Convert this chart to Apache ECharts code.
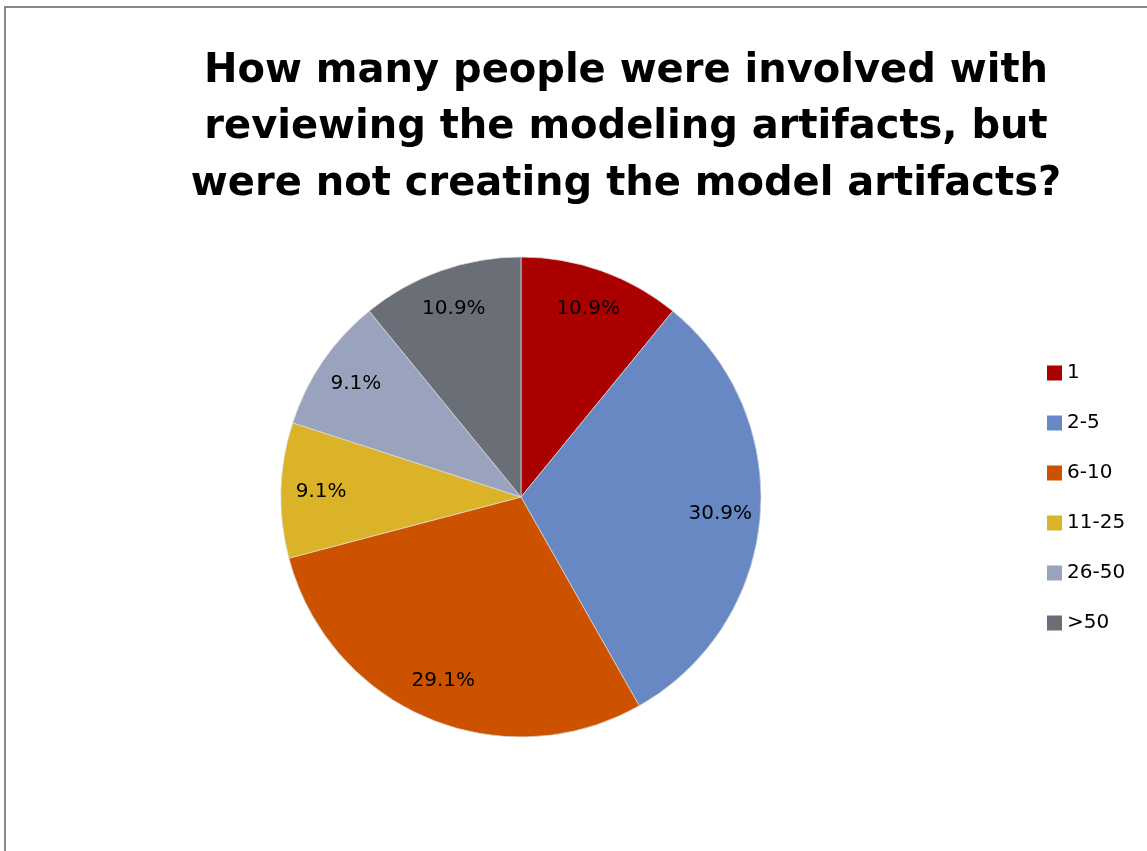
<!DOCTYPE html>
<html><head><meta charset="utf-8">
<script src="https://cdn.jsdelivr.net/npm/echarts@6/dist/echarts.min.js"></script>
<style>html,body{margin:0;padding:0;background:#fff;}#c{width:1147px;height:851px;}</style>
</head><body><div id="c"></div>
<script>
const categories = ['1', '2-5', '6-10', '11-25', '26-50', '>50'];
const percents = [10.9, 30.9, 29.1, 9.1, 9.1, 10.9];
const colors = ['#AA0000', '#6788C2', '#CC5200', '#DBB328', '#99A3BE', '#6A6E76'];
const titleText = 'How many people were involved with\nreviewing the modeling artifacts, but\nwere not creating the model artifacts?';

const chart = echarts.init(document.getElementById('c'), null, {renderer: 'canvas'});
const data = categories.map((c, i) => ({name: c, value: percents[i], itemStyle: {color: colors[i]}}));
chart.setOption({
  backgroundColor: '#fff',
  animation: false,
  title: {
    text: titleText,
    left: 621, top: 38, textAlign: 'center',
    textStyle: {fontFamily: 'DejaVu Sans', fontWeight: 'bold', fontSize: 40, lineHeight: 56.5, color: '#000'}
  },
  legend: {
    orient: 'vertical', left: 1047, top: 362, padding: 0,
    itemWidth: 15, itemHeight: 15, itemGap: 28,
    icon: 'rect',
    itemStyle: {borderWidth: 0},
    textStyle: {fontFamily: 'DejaVu Sans', fontSize: 20, lineHeight: 22, color: '#000', padding: [0, 0, 0, 0]},
    data: categories
  },
  graphic: [{
    type: 'rect', shape: {x: 5, y: 7, width: 1300, height: 1000},
    style: {fill: 'none', stroke: '#888', lineWidth: 2}, silent: true
  }],
  series: [{
    type: 'pie', center: [521, 497], radius: [0, 240], startAngle: 90, clockwise: true,
    data: data,
    itemStyle: {borderColor: '#ddd', borderWidth: 0.7},
    label: {show: false}, labelLine: {show: false}
  }, {
    type: 'pie', center: [521, 497], radius: [154, 240], startAngle: 90, clockwise: true, silent: true,
    data: categories.map((c, i) => ({name: c, value: percents[i], itemStyle: {color: 'rgba(0,0,0,0)'}})),
    label: {show: true, position: 'inside', formatter: p => p.value.toFixed(1) + '%',
      fontFamily: 'DejaVu Sans', fontSize: 20, color: '#000'},
    labelLine: {show: false}, legendHoverLink: false
  }]
});
</script></body></html>
